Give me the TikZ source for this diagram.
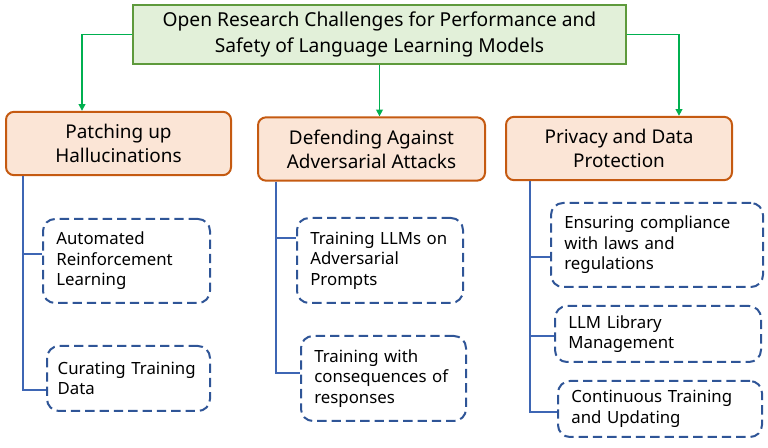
\documentclass[tikz,border=0pt]{standalone}
\usepackage{fontspec}
\setmainfont{Noto Sans}
\usetikzlibrary{arrows.meta}
\definecolor{topfill}{HTML}{E2F0D9}
\definecolor{topdraw}{HTML}{5E9A3C}
\definecolor{arrowgreen}{HTML}{00B050}
\definecolor{orfill}{HTML}{FBE5D6}
\definecolor{ordraw}{HTML}{C55A11}
\definecolor{dashblue}{HTML}{2F5597}
\definecolor{trunkblue}{HTML}{3E66B4}
\tikzset{
  topbox/.style={draw=topdraw, fill=topfill, line width=1.1pt, align=center,
    font=\fontsize{14.4pt}{19.5pt}\selectfont, minimum width=369.75pt, minimum height=44.25pt, inner sep=0pt},
  headbox/.style={draw=ordraw, fill=orfill, line width=1.5pt, rounded corners=6pt, align=center,
    font=\fontsize{14.2pt}{18pt}\selectfont, minimum height=47.5pt, inner sep=0pt},
  subbox/.style={draw=dashblue, line width=1.5pt, dash pattern=on 7pt off 3.75pt, rounded corners=9pt,
    align=left, font=\fontsize{12.6pt}{15.4pt}\selectfont, inner ysep=0pt, inner xsep=10pt},
  garrow/.style={draw=arrowgreen, line width=1.1pt, -{Triangle[width=5pt,length=5pt]}},
  trunk/.style={draw=trunkblue, line width=1.1pt},
}
\begin{document}
\begin{tikzpicture}[x=0.75pt,y=-0.75pt]
\useasboundingbox (0,0) rectangle (768,448);
\node[topbox] (top) at (379.5,34.5) {Open Research Challenges for Performance and\\Safety of Language Learning Models};
\node[headbox, minimum width=168.75pt] (h1) at (118.5,143.5) {Patching up\\Hallucinations};
\node[headbox, minimum width=170.25pt] (h2) at (371.5,149) {Defending Against\\Adversarial Attacks};
\node[headbox, minimum width=169.5pt] (h3) at (619,148.5) {Privacy and Data\\Protection};
\node[subbox, text width=105.25pt, minimum height=63pt] (a1) at (126.5,261) {Automated\\Reinforcement\\Learning};
\node[subbox, inner xsep=8pt, text width=106.25pt, minimum height=48.75pt] (b1) at (128.5,378.5) {\mbox{Curating Training}\\Data};
\node[subbox, text width=104.5pt, minimum height=63.75pt] (a2) at (380,260.5) {Training LLMs on\\Adversarial\\Prompts};
\node[subbox, text width=103.75pt, minimum height=63.75pt] (b2) at (383.5,378.5) {Training with\\consequences of\\responses};
\node[subbox, text width=139pt, minimum height=63pt] (a3) at (657,245) {Ensuring compliance\\with laws and\\regulations};
\node[subbox, text width=134.5pt, minimum height=42pt] (b3) at (658,334) {LLM Library\\Management};
\node[subbox, text width=133pt, minimum height=42pt] (c3) at (660,409) {Continuous Training\\and Updating};
% green arrows
\coordinate (gl) at (82,0);
\coordinate (gr) at (679,0);
\draw[garrow] (top.west) -| (gl |- h1.north);
\draw[garrow] (top.south) -- (top.south |- h2.north);
\draw[garrow] (top.east) -| (gr |- h3.north);
% trunks
\coordinate (t1) at (23,0);
\coordinate (t2) at (276,0);
\coordinate (t3) at (530,0);
\coordinate (ya1) at (0,254);
\coordinate (yb1) at (0,390);
\coordinate (ya2) at (0,238);
\coordinate (yb2) at (0,373);
\coordinate (ya3) at (0,257);
\coordinate (yb3) at (0,336);
\coordinate (yc3) at (0,412);
\draw[trunk] (t1 |- h1.south) |- (a1.west |- ya1);
\draw[trunk] (t1 |- h1.south) |- (b1.west |- yb1);
\draw[trunk] (t2 |- h2.south) |- (a2.west |- ya2);
\draw[trunk] (t2 |- h2.south) |- (b2.west |- yb2);
\draw[trunk] (t3 |- h3.south) |- (a3.west |- ya3);
\draw[trunk] (t3 |- h3.south) |- (b3.west |- yb3);
\draw[trunk] (t3 |- h3.south) |- (c3.west |- yc3);
\end{tikzpicture}
\end{document}
